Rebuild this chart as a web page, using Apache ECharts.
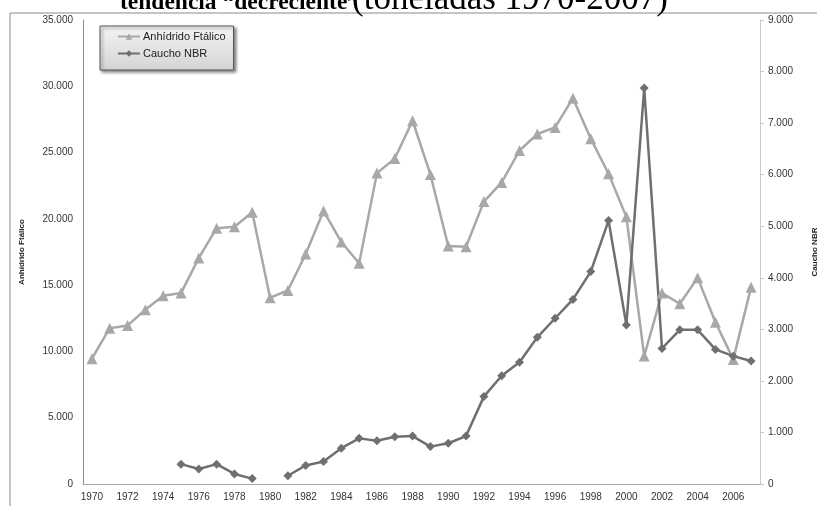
<!DOCTYPE html>
<html>
<head>
<meta charset="utf-8">
<script src="https://cdn.jsdelivr.net/npm/echarts@6/dist/echarts.min.js"></script>
<style>
html,body{margin:0;padding:0;background:#fff;}
#chart{width:817px;height:506px;}
</style>
</head>
<body>
<div id="chart"></div>
<script>
var years = ['1970','1971','1972','1973','1974','1975','1976','1977','1978','1979',
             '1980','1981','1982','1983','1984','1985','1986','1987','1988','1989',
             '1990','1991','1992','1993','1994','1995','1996','1997','1998','1999',
             '2000','2001','2002','2003','2004','2005','2006','2007'];
var anhidrido = [9450, 11750, 11950, 13150, 14200, 14400, 17050, 19300, 19400, 20500,
                 14050, 14600, 17350, 20600, 18250, 16650, 23450, 24550, 27400, 23350,
                 17950, 17900, 21300, 22750, 25150, 26400, 26900, 29100, 26050, 23400,
                 20150, 9650, 14400, 13600, 15550, 12200, 9400, 14850];
var caucho = [null, null, null, null, null, 385, 290, 385, 195, 105,
              null, 160, 360, 435, 695, 885, 840, 915, 930, 725,
              790, 930, 1695, 2100, 2360, 2845, 3215, 3580, 4120, 5110,
              3085, 7680, 2630, 2990, 2990, 2610, 2480, 2385];
var seriesNames = ['Anhídrido Ftálico', 'Caucho NBR'];
var titleBold = 'tendencia “decreciente”';
var titleNormal = '(toneladas 1970-2007)';

function fmt(v){ return String(v).replace(/\B(?=(\d{3})+(?!\d))/g, '.'); }

var chart = echarts.init(document.getElementById('chart'), null, {renderer:'canvas'});
var labelFont = "'Liberation Sans Narrow','Liberation Sans',Arial,sans-serif";
var serif = "'Liberation Serif','Times New Roman',serif";
chart.setOption({
  animation: false,
  backgroundColor: '#ffffff',
  grid: {left: 83, right: 57, top: 20, bottom: 22, containLabel: false, outerBoundsMode: 'none'},
  graphic: [
    {type:'rect', shape:{x:10, y:13, width:830, height:520}, style:{fill:null, stroke:'#8a8a8a', lineWidth:1}, z:-1},
    {type:'text', x:120, y:14.5, style:{
      text: titleBold, align:'left', verticalAlign:'bottom',
      font: 'bold 23.5px ' + serif, fill:'#000'
    }, z:10},
    {type:'text', x:352, y:17, style:{
      text: titleNormal, align:'left', verticalAlign:'bottom',
      font: '35px ' + serif, fill:'#000'
    }, z:10}
  ],
  legend: {
    orient: 'vertical',
    left: 100, top: 26,
    itemWidth: 22, itemHeight: 8,
    itemGap: 6,
    padding: [5, 8, 11, 17],
    backgroundColor: new echarts.graphic.LinearGradient(0,0,0,1,[{offset:0,color:'#f4f4f4'},{offset:1,color:'#d4d4d4'}]),
    borderColor: '#555555', borderWidth: 1,
    shadowBlur: 3, shadowColor: 'rgba(0,0,0,0.45)', shadowOffsetX: 2, shadowOffsetY: 2,
    textStyle: {fontFamily: labelFont, fontSize: 11, color: '#222', padding: [0,0,0,-2]},
    data: seriesNames
  },
  xAxis: {
    type: 'category',
    data: years,
    boundaryGap: true,
    axisLine: {lineStyle: {color: '#a6a6a6', width: 1}},
    axisTick: {show: false},
    axisLabel: {interval: 1, fontFamily: labelFont, fontSize: 10, color: '#333', margin: 8},
    splitLine: {show: false}
  },
  yAxis: [
    {
      type: 'value', min: 0, max: 35000, interval: 5000,
      name: 'Anhídrido Ftálico', nameLocation: 'middle', nameGap: 57, nameRotate: 90,
      nameTextStyle: {fontFamily: labelFont, fontSize: 8, fontWeight: 'bold', color: '#222'},
      axisLine: {show: true, lineStyle: {color: '#8c8c8c'}},
      axisTick: {show: false},
      splitLine: {show: false},
      axisLabel: {formatter: fmt, fontFamily: labelFont, fontSize: 10, color: '#333', margin: 10}
    },
    {
      type: 'value', min: 0, max: 9000, interval: 1000, position: 'right',
      name: 'Caucho NBR', nameLocation: 'middle', nameGap: 51, nameRotate: 90,
      nameTextStyle: {fontFamily: labelFont, fontSize: 8, fontWeight: 'bold', color: '#222'},
      axisLine: {show: true, lineStyle: {color: '#c8c8c8'}},
      axisTick: {show: true, length: 4, lineStyle: {color: '#c8c8c8'}},
      splitLine: {show: false},
      axisLabel: {formatter: fmt, fontFamily: labelFont, fontSize: 10, color: '#333', margin: 8}
    }
  ],
  series: [
    {
      name: seriesNames[0], type: 'line', yAxisIndex: 0, data: anhidrido,
      symbol: 'triangle', symbolSize: 11,
      itemStyle: {color: '#a8a8a8'},
      lineStyle: {color: '#a8a8a8', width: 2.5}
    },
    {
      name: seriesNames[1], type: 'line', yAxisIndex: 1, data: caucho,
      connectNulls: false,
      symbol: 'diamond', symbolSize: 9,
      itemStyle: {color: '#6f6f6f'},
      lineStyle: {color: '#6f6f6f', width: 2.5}
    }
  ]
});
</script>
</body>
</html>
